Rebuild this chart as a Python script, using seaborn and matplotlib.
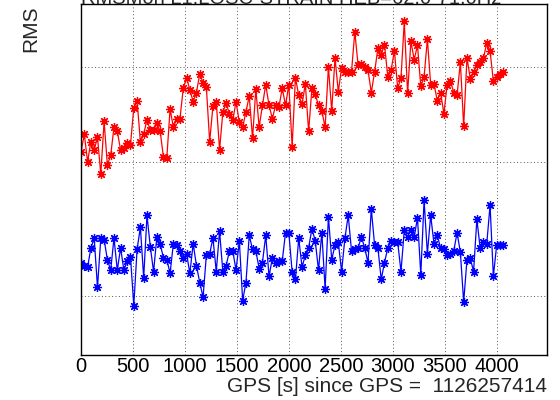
import numpy as np
import pandas as pd
import matplotlib
matplotlib.use("Agg")
import matplotlib.pyplot as plt
import seaborn as sns
from matplotlib.ticker import FixedLocator, MultipleLocator, NullLocator, NullFormatter

# ---------------- data ----------------
title_text = "RMSMon L1:LOSC-STRAIN HEB=62.0-71.0Hz"
x_label = "GPS [s] since GPS =  1126257414"
y_label = "RMS"
sample_step = 31.75  # seconds between points

red_rms = [
    3.09, 3.26, 3.00, 3.19, 3.11, 3.23, 2.89, 3.39, 2.97, 3.06,
    3.33, 3.29, 3.11, 3.13, 3.18, 3.16, 3.53, 3.61, 3.19, 3.26,
    3.41, 3.30, 3.30, 3.37, 3.29, 3.04, 3.03, 3.52, 3.33, 3.42,
    3.42, 3.75, 3.87, 3.73, 3.60, 3.70, 3.92, 3.81, 3.76, 3.19,
    3.55, 3.60, 3.11, 3.49, 3.58, 3.47, 3.40, 3.60, 3.38, 3.33,
    3.49, 3.66, 3.22, 3.74, 3.33, 3.56, 3.79, 3.56, 3.42, 3.56,
    3.54, 3.75, 3.56, 3.79, 3.14, 3.87, 3.67, 3.57, 3.80, 3.29,
    3.75, 3.68, 3.56, 3.50, 3.33, 4.00, 3.50, 4.11, 3.71, 3.99,
    3.94, 3.94, 3.94, 4.45, 4.02, 4.03, 4.00, 3.96, 3.70, 3.94,
    4.23, 4.15, 4.28, 3.88, 3.96, 4.20, 3.75, 3.87, 4.59, 3.69,
    4.32, 4.09, 4.27, 3.77, 3.88, 4.35, 3.79, 3.80, 3.61, 3.70,
    3.47, 3.79, 3.83, 3.70, 3.67, 4.06, 3.34, 4.11, 3.86, 3.94,
    4.02, 4.06, 4.11, 4.30, 4.20, 3.83, 3.88, 3.92, 3.94,
]

blue_rms = [
    2.21, 2.19, 2.18, 2.31, 2.38, 2.05, 2.38, 2.37, 2.23, 2.16,
    2.38, 2.16, 2.31, 2.16, 2.22, 2.25, 1.94, 2.30, 2.46, 2.11,
    2.55, 2.32, 2.15, 2.39, 2.34, 2.24, 2.23, 2.14, 2.34, 2.33,
    2.29, 2.24, 2.27, 2.14, 2.34, 2.19, 2.08, 1.99, 2.26, 2.27,
    2.38, 2.15, 2.43, 2.15, 2.19, 2.29, 2.29, 2.16, 2.36, 1.97,
    2.08, 2.40, 2.30, 2.29, 2.17, 2.21, 2.40, 2.12, 2.24, 2.21,
    2.22, 2.22, 2.42, 2.42, 2.15, 2.10, 2.38, 2.18, 2.26, 2.31,
    2.45, 2.36, 2.16, 2.42, 2.04, 2.54, 2.23, 2.33, 2.35, 2.15,
    2.38, 2.55, 2.29, 2.30, 2.31, 2.39, 2.31, 2.21, 2.60, 2.33,
    2.31, 2.10, 2.21, 2.31, 2.36, 2.35, 2.35, 2.15, 2.44, 2.39,
    2.44, 2.39, 2.53, 2.13, 2.67, 2.27, 2.55, 2.34, 2.40, 2.31,
    2.30, 2.26, 2.27, 2.29, 2.42, 2.28, 1.96, 2.23, 2.24, 2.15,
    2.52, 2.31, 2.35, 2.34, 2.63, 2.12, 2.33, 2.33, 2.33,
]

x_major_ticks = [0, 500, 1000, 1500, 2000, 2500, 3000, 3500, 4000]
y_grid_values = [2, 3, 4]

# ---------------- style ----------------
sns.set_style("white")
plt.rcParams["font.family"] = ["Liberation Sans", "DejaVu Sans"]

fig = plt.figure(figsize=(5.6, 4.0), dpi=100)
ax = fig.add_axes([81 / 560, 45 / 400, 466 / 560, 351 / 400])

df_red = pd.DataFrame({"t": np.arange(len(red_rms)) * sample_step, "rms": red_rms})
df_blue = pd.DataFrame({"t": np.arange(len(blue_rms)) * sample_step, "rms": blue_rms})

star = (8, 2, 0)
for df, col in [(df_red, "#ff0000"), (df_blue, "#0000ff")]:
    sns.lineplot(data=df, x="t", y="rms", ax=ax, color=col, lw=0.9,
                 marker=star, markersize=6.5, markeredgewidth=0.9,
                 markeredgecolor=col, estimator=None, sort=False)

ax.set_yscale("log")
ax.set_xlim(0, 4485)
ax.set_ylim(1.67, 4.84)

ax.xaxis.set_major_locator(FixedLocator(x_major_ticks))
ax.xaxis.set_minor_locator(MultipleLocator(100))
ax.yaxis.set_major_locator(FixedLocator(y_grid_values))
ax.yaxis.set_minor_locator(NullLocator())
ax.yaxis.set_major_formatter(NullFormatter())
ax.yaxis.set_minor_formatter(NullFormatter())

ax.tick_params(which="both", direction="in", top=False, right=False,
               colors="black", labelsize=14.5, pad=1.5, width=1)
ax.tick_params(which="major", length=6.5)
ax.tick_params(which="minor", length=3.3)

ax.grid(True, which="major", linestyle=(0, (1, 2.5)), color="#555555", lw=0.7)
for sp in ax.spines.values():
    sp.set_visible(True)
    sp.set_color("black")
    sp.set_linewidth(1.0)

ax.set_xlabel(x_label, fontsize=15, ha="right")
ax.xaxis.set_label_coords(1.0, -0.062)
ax.xaxis.label.set_va("top")

ax.set_ylabel(y_label, fontsize=15)
ax.yaxis.label.set_rotation_mode("default")
ax.yaxis.label.set_ha("center")
ax.yaxis.label.set_va("top")
ax.yaxis.set_label_coords(-0.107, 0.997)

fig.text(291 / 560, 1 - 3.8 / 400, title_text, ha="center", va="baseline", fontsize=14.5)

fig.savefig("out.png", dpi=100)
